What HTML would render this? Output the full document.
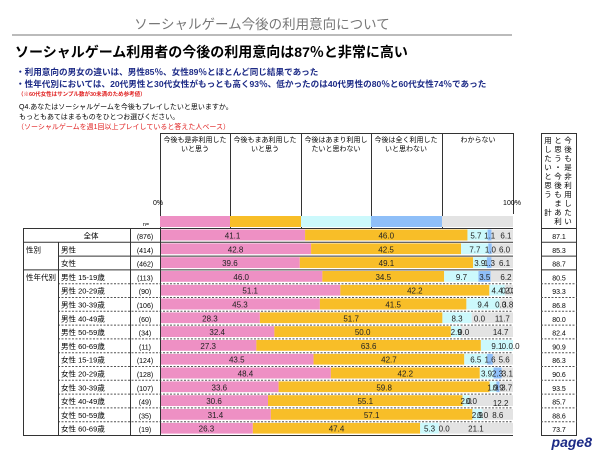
<!DOCTYPE html>
<html><head><meta charset="utf-8"><style>
body{margin:0;width:600px;height:450px;background:#fff;font-family:"Liberation Sans","Noto Sans CJK JP",sans-serif;position:relative;overflow:hidden}
.a{position:absolute;white-space:nowrap}
</style></head><body>
<div class="a" style="left:0;width:524px;top:13px;text-align:center;font-size:13.5px;color:#777">ソーシャルゲーム今後の利用意向について</div>
<div class="a" style="left:12px;top:34px;width:500px;height:2px;background:#bbb"></div>
<div class="a" style="left:15px;top:42px;font-size:14px;font-weight:bold;color:#000">ソーシャルゲーム利用者の今後の利用意向は87％と非常に高い</div>
<div class="a" style="left:16px;top:66px;font-size:8.6px;font-weight:bold;color:#1c2a86">・利用意向の男女の違いは、男性85％、女性89％とほとんど同じ結果であった</div>
<div class="a" style="left:16px;top:78px;font-size:8.6px;font-weight:bold;color:#1c2a86">・性年代別においては、20代男性と30代女性がもっとも高く93％、低かったのは40代男性の80％と60代女性74％であった</div>
<div class="a" style="left:18px;top:90px;font-size:5.5px;font-weight:bold;color:#e02020">（※60代女性はサンプル数が30未満のため参考値）</div>
<div class="a" style="left:19px;top:102px;font-size:7px;color:#000">Q4.あなたはソーシャルゲームを今後もプレイしたいと思いますか。</div>
<div class="a" style="left:19px;top:112px;font-size:7px;color:#000">もっともあてはまるものをひとつお選びください。</div>
<div class="a" style="left:17px;top:122px;font-size:7px;color:#e02020">（ソーシャルゲームを週1回以上プレイしていると答えた人ベース）</div>

<svg class="a" style="left:0;top:0" width="600" height="450" font-family="Liberation Sans,Noto Sans CJK JP,sans-serif">
<g stroke="#333" stroke-width="1" fill="none">
<path d="M160.5 133.5H513.5M160.5 133V228M230.5 133V228M301.5 133V228M371.5 133V228M442.5 133V228M513.5 133V214"/>
<rect x="541.5" y="133.5" width="35" height="95"/>
</g>
<g font-size="7" fill="#000" text-anchor="middle">
<text x="195" y="142">今後も是非利用した</text><text x="195" y="151">いと思う</text>
<text x="265" y="142">今後もまあ利用した</text><text x="265" y="151">いと思う</text>
<text x="336" y="142">今後はあまり利用し</text><text x="336" y="151">たいと思わない</text>
<text x="406" y="142">今後は全く利用した</text><text x="406" y="151">いと思わない</text>
<text x="478" y="142">わからない</text>
<text x="158" y="205" font-size="7">0%</text>
<text x="512" y="205" font-size="7">100%</text>
<text x="146" y="226" font-size="5.5">n=</text>
</g>
<g font-size="7.5" fill="#000" text-anchor="middle">
<text x="568" y="143">今</text><text x="568" y="152">後</text><text x="568" y="161">も</text><text x="568" y="170">是</text><text x="568" y="179">非</text><text x="568" y="188">利</text><text x="568" y="197">用</text><text x="568" y="206">し</text><text x="568" y="215">た</text><text x="568" y="224">い</text>
<text x="558" y="143">と</text><text x="558" y="152">思</text><text x="558" y="161">う</text><text x="558" y="170">・</text><text x="558" y="179">今</text><text x="558" y="188">後</text><text x="558" y="197">も</text><text x="558" y="206">ま</text><text x="558" y="215">あ</text><text x="558" y="224">利</text>
<text x="548" y="143">用</text><text x="548" y="152">し</text><text x="548" y="161">た</text><text x="548" y="170">い</text><text x="548" y="179">と</text><text x="548" y="188">思</text><text x="548" y="197">う</text><text x="548" y="215">計</text>
</g>
<rect x="160" y="216" width="70" height="11" fill="#ee90c4"/>
<rect x="230" y="216" width="71" height="11" fill="#f8be28"/>
<rect x="301" y="216" width="70" height="11" fill="#ccf9fc"/>
<rect x="371" y="216" width="71" height="11" fill="#8fbff8"/>
<rect x="442" y="216" width="71" height="11" fill="#e3e3e3"/>

<g font-size="8" fill="#222" text-anchor="middle">
<svg x="160" y="229.5" width="353" height="11"><rect x="0" width="41.1%" height="11" fill="#ee90c4"/><rect x="41.1%" width="46%" height="11" fill="#f8be28"/><rect x="87.1%" width="5.7%" height="11" fill="#ccf9fc"/><rect x="92.8%" width="1.1%" height="11" fill="#8fbff8"/><rect x="93.9%" width="6.1%" height="11" fill="#e3e3e3"/><text x="20.55%" y="9">41.1</text><text x="64.1%" y="9">46.0</text><text x="89.5%" y="9">5.7</text><text x="93.4%" y="9">1.1</text><text x="98%" y="9">6.1</text></svg>
<svg x="160" y="243.3" width="353" height="11"><rect x="0" width="42.8%" height="11" fill="#ee90c4"/><rect x="42.8%" width="42.5%" height="11" fill="#f8be28"/><rect x="85.3%" width="7.7%" height="11" fill="#ccf9fc"/><rect x="93%" width="1%" height="11" fill="#8fbff8"/><rect x="94%" width="6%" height="11" fill="#e3e3e3"/><text x="21.4%" y="9">42.8</text><text x="64.05%" y="9">42.5</text><text x="89.2%" y="9">7.7</text><text x="93.6%" y="9">1.0</text><text x="97.6%" y="9">6.0</text></svg>
<svg x="160" y="257.1" width="353" height="11"><rect x="0" width="39.6%" height="11" fill="#ee90c4"/><rect x="39.6%" width="49.1%" height="11" fill="#f8be28"/><rect x="88.7%" width="3.9%" height="11" fill="#ccf9fc"/><rect x="92.6%" width="1.3%" height="11" fill="#8fbff8"/><rect x="93.9%" width="6.1%" height="11" fill="#e3e3e3"/><text x="19.8%" y="9">39.6</text><text x="64.15%" y="9">49.1</text><text x="90.6%" y="9">3.9</text><text x="93.3%" y="9">1.3</text><text x="97.6%" y="9">6.1</text></svg>
<svg x="160" y="270.9" width="353" height="11"><rect x="0" width="46%" height="11" fill="#ee90c4"/><rect x="46%" width="34.5%" height="11" fill="#f8be28"/><rect x="80.5%" width="9.7%" height="11" fill="#ccf9fc"/><rect x="90.2%" width="3.5%" height="11" fill="#8fbff8"/><rect x="93.7%" width="6.3%" height="11" fill="#e3e3e3"/><text x="23%" y="9">46.0</text><text x="63.25%" y="9">34.5</text><text x="85.4%" y="9">9.7</text><text x="92%" y="9">3.5</text><text x="98%" y="9">6.2</text></svg>
<svg x="160" y="284.7" width="353" height="11"><rect x="0" width="51.1%" height="11" fill="#ee90c4"/><rect x="51.1%" width="42.2%" height="11" fill="#f8be28"/><rect x="93.3%" width="4.4%" height="11" fill="#ccf9fc"/><rect x="97.7%" width="2.3%" height="11" fill="#e3e3e3"/><text x="25.55%" y="9">51.1</text><text x="72.2%" y="9">42.2</text><text x="95.5%" y="9">4.4</text><text x="98.3%" y="9">0.0</text><text x="99.3%" y="9">2.2</text></svg>
<svg x="160" y="298.5" width="353" height="11"><rect x="0" width="45.3%" height="11" fill="#ee90c4"/><rect x="45.3%" width="41.5%" height="11" fill="#f8be28"/><rect x="86.8%" width="9.4%" height="11" fill="#ccf9fc"/><rect x="96.2%" width="3.8%" height="11" fill="#e3e3e3"/><text x="22.65%" y="9">45.3</text><text x="66.05%" y="9">41.5</text><text x="91.5%" y="9">9.4</text><text x="96.5%" y="9">0.0</text><text x="98.5%" y="9">3.8</text></svg>
<svg x="160" y="312.3" width="353" height="11"><rect x="0" width="28.3%" height="11" fill="#ee90c4"/><rect x="28.3%" width="51.7%" height="11" fill="#f8be28"/><rect x="80%" width="8.3%" height="11" fill="#ccf9fc"/><rect x="88.3%" width="11.7%" height="11" fill="#e3e3e3"/><text x="14.15%" y="9">28.3</text><text x="54.15%" y="9">51.7</text><text x="84.15%" y="9">8.3</text><text x="90.5%" y="9">0.0</text><text x="97%" y="9">11.7</text></svg>
<svg x="160" y="326.1" width="353" height="11"><rect x="0" width="32.4%" height="11" fill="#ee90c4"/><rect x="32.4%" width="50%" height="11" fill="#f8be28"/><rect x="82.4%" width="2.9%" height="11" fill="#ccf9fc"/><rect x="85.3%" width="14.7%" height="11" fill="#e3e3e3"/><text x="16.2%" y="9">32.4</text><text x="57.4%" y="9">50.0</text><text x="83.9%" y="9">2.9</text><text x="86%" y="9">0.0</text><text x="96.5%" y="9">14.7</text></svg>
<svg x="160" y="339.9" width="353" height="11"><rect x="0" width="27.3%" height="11" fill="#ee90c4"/><rect x="27.3%" width="63.6%" height="11" fill="#f8be28"/><rect x="90.9%" width="9.1%" height="11" fill="#ccf9fc"/><text x="13.65%" y="9">27.3</text><text x="59.1%" y="9">63.6</text><text x="95.45%" y="9">9.1</text></svg>
<svg x="160" y="353.7" width="353" height="11"><rect x="0" width="43.5%" height="11" fill="#ee90c4"/><rect x="43.5%" width="42.7%" height="11" fill="#f8be28"/><rect x="86.2%" width="6.5%" height="11" fill="#ccf9fc"/><rect x="92.7%" width="1.6%" height="11" fill="#8fbff8"/><rect x="94.3%" width="5.7%" height="11" fill="#e3e3e3"/><text x="21.75%" y="9">43.5</text><text x="64.85%" y="9">42.7</text><text x="89.45%" y="9">6.5</text><text x="93.5%" y="9">1.6</text><text x="97.5%" y="9">5.6</text></svg>
<svg x="160" y="367.5" width="353" height="11"><rect x="0" width="48.4%" height="11" fill="#ee90c4"/><rect x="48.4%" width="42.2%" height="11" fill="#f8be28"/><rect x="90.6%" width="3.9%" height="11" fill="#ccf9fc"/><rect x="94.5%" width="2.3%" height="11" fill="#8fbff8"/><rect x="96.8%" width="3.2%" height="11" fill="#e3e3e3"/><text x="24.2%" y="9">48.4</text><text x="69.5%" y="9">42.2</text><text x="92.5%" y="9">3.9</text><text x="95.6%" y="9">2.3</text><text x="98.4%" y="9">3.1</text></svg>
<svg x="160" y="381.3" width="353" height="11"><rect x="0" width="33.6%" height="11" fill="#ee90c4"/><rect x="33.6%" width="59.8%" height="11" fill="#f8be28"/><rect x="93.4%" width="1.9%" height="11" fill="#ccf9fc"/><rect x="95.3%" width="0.9%" height="11" fill="#8fbff8"/><rect x="96.2%" width="3.8%" height="11" fill="#e3e3e3"/><text x="16.8%" y="9">33.6</text><text x="63.5%" y="9">59.8</text><text x="94.3%" y="9">1.9</text><text x="95.8%" y="9">0.9</text><text x="98.2%" y="9">3.7</text></svg>
<svg x="160" y="395.1" width="353" height="11"><rect x="0" width="30.6%" height="11" fill="#ee90c4"/><rect x="30.6%" width="55.1%" height="11" fill="#f8be28"/><rect x="85.7%" width="2%" height="11" fill="#ccf9fc"/><rect x="87.7%" width="12.3%" height="11" fill="#e3e3e3"/><text x="15.3%" y="9">30.6</text><text x="58.15%" y="9">55.1</text><text x="86.7%" y="9">2.0</text><text x="88.2%" y="9">0.0</text><text x="96.5%" y="11">12.2</text></svg>
<svg x="160" y="408.9" width="353" height="11"><rect x="0" width="31.4%" height="11" fill="#ee90c4"/><rect x="31.4%" width="57.1%" height="11" fill="#f8be28"/><rect x="88.5%" width="2.9%" height="11" fill="#ccf9fc"/><rect x="91.4%" width="8.6%" height="11" fill="#e3e3e3"/><text x="15.7%" y="9">31.4</text><text x="59.95%" y="9">57.1</text><text x="89.9%" y="9">2.9</text><text x="91.4%" y="9">0.0</text><text x="95.7%" y="9">8.6</text></svg>
<svg x="160" y="422.7" width="353" height="11"><rect x="0" width="26.3%" height="11" fill="#ee90c4"/><rect x="26.3%" width="47.4%" height="11" fill="#f8be28"/><rect x="73.7%" width="5.3%" height="11" fill="#ccf9fc"/><rect x="79%" width="21%" height="11" fill="#e3e3e3"/><text x="13.15%" y="9">26.3</text><text x="50%" y="9">47.4</text><text x="76.35%" y="9">5.3</text><text x="80.5%" y="9">0.0</text><text x="89.5%" y="9">21.1</text></svg>
<text x="505" y="348.9">0.</text><text x="514" y="348.9">0.0</text>
</g>

<g stroke="#333" stroke-width="1" fill="none">
<path d="M23.5 228.5H513M23.5 242.3H513M23.5 269.9H513M58 256.1H513"/>
<path d="M58 283.7H513M58 297.5H513M58 311.3H513M58 325.1H513M58 338.9H513M58 352.7H513M58 366.5H513M58 380.3H513M58 394.1H513M58 407.9H513M58 421.7H513" stroke-dasharray="2,1.5" stroke="#555"/>
<path d="M23.5 228V435.5H513M58.5 242V435.5M130.5 228V435.5M160.5 228V435.5"/>
<rect x="541.5" y="228.5" width="35" height="207"/>
<path d="M541 242.3H577M541 256.1H577M541 269.9H577" />
<path d="M541 283.7H577M541 297.5H577M541 311.3H577M541 325.1H577M541 338.9H577M541 352.7H577M541 366.5H577M541 380.3H577M541 394.1H577M541 407.9H577M541 421.7H577" stroke-dasharray="2,1.5" stroke="#555"/>
</g>
<g font-size="7.5" fill="#000">
<text x="91" y="238.5" text-anchor="middle">全体</text>
<text x="26" y="252.3">性別</text>
<text x="26" y="280">性年代別</text>
<g transform="translate(61,0)">
<text y="252.3">男性</text><text y="266.1">女性</text>
<text y="279.9">男性 15-19歳</text><text y="293.7">男性 20-29歳</text><text y="307.5">男性 30-39歳</text><text y="321.3">男性 40-49歳</text><text y="335.1">男性 50-59歳</text><text y="348.9">男性 60-69歳</text>
<text y="362.7">女性 15-19歳</text><text y="376.5">女性 20-29歳</text><text y="390.3">女性 30-39歳</text><text y="404.1">女性 40-49歳</text><text y="417.9">女性 50-59歳</text><text y="431.7">女性 60-69歳</text>
</g>
<g text-anchor="middle" font-size="7">
<text x="145" y="239">(876)</text><text x="145" y="252.8">(414)</text><text x="145" y="266.6">(462)</text><text x="145" y="280.4">(113)</text><text x="145" y="294.2">(90)</text><text x="145" y="308">(106)</text><text x="145" y="321.8">(60)</text><text x="145" y="335.6">(34)</text><text x="145" y="349.4">(11)</text><text x="145" y="363.2">(124)</text><text x="145" y="377">(128)</text><text x="145" y="390.8">(107)</text><text x="145" y="404.6">(49)</text><text x="145" y="418.4">(35)</text><text x="145" y="432.2">(19)</text>
</g>
<g text-anchor="middle" font-size="7">
<text x="559" y="239">87.1</text><text x="559" y="252.8">85.3</text><text x="559" y="266.6">88.7</text><text x="559" y="280.4">80.5</text><text x="559" y="294.2">93.3</text><text x="559" y="308">86.8</text><text x="559" y="321.8">80.0</text><text x="559" y="335.6">82.4</text><text x="559" y="349.4">90.9</text><text x="559" y="363.2">86.3</text><text x="559" y="377">90.6</text><text x="559" y="390.8">93.5</text><text x="559" y="404.6">85.7</text><text x="559" y="418.4">88.6</text><text x="559" y="432.2">73.7</text>
</g>
</g>
<text x="592" y="447" text-anchor="end" font-size="14" font-style="italic" font-weight="bold" fill="#1c2a86">page8</text>
</svg>
</body></html>
